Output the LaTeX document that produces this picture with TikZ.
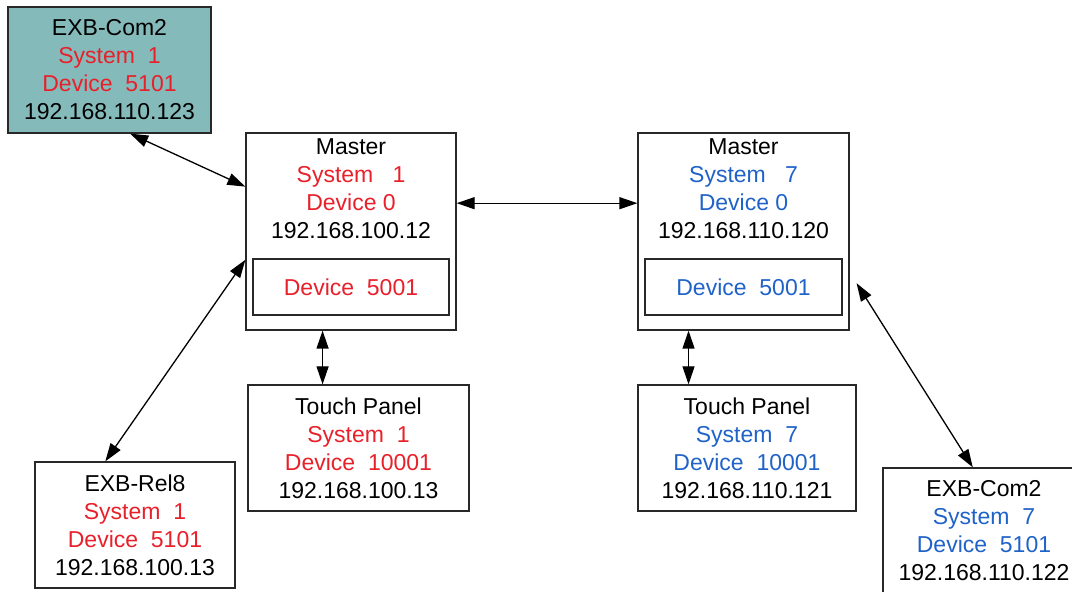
\documentclass[tikz,border=0pt]{standalone}
\usepackage{fontspec}
\setmainfont{Liberation Sans}
\usetikzlibrary{positioning, calc, arrows.meta}
\definecolor{sysred}{RGB}{232,32,42}
\definecolor{sysblue}{RGB}{31,98,200}
\definecolor{comfill}{RGB}{132,186,186}
\definecolor{edge}{RGB}{40,40,40}

\begin{document}
\begin{tikzpicture}[
        x=1pt, y=1pt,
        box/.style={rectangle, draw=edge, line width=1.3pt, align=center, inner sep=0pt,
                    font=\fontsize{23}{28}\selectfont, minimum height=126pt},
        com/.style={box, fill=comfill},
        master/.style={rectangle, draw=edge, line width=1.3pt, minimum height=197pt, inner sep=0pt},
        mtext/.style={align=center, inner sep=0pt, font=\fontsize{23}{28}\selectfont},
        sub/.style={box, minimum width=196pt, minimum height=56pt},
        arrow/.style={{Triangle[length=18pt,width=12pt]}-{Triangle[length=18pt,width=12pt]}, line width=1.3pt},
    ]
    \useasboundingbox (0,0) rectangle (1072,592);

    % ===== System 1 =====
    \node[com, minimum width=203pt] (com1) at (109.5,522)
        {EXB-Com2\\\textcolor{sysred}{System~~1}\\\textcolor{sysred}{Device~~5101}\\192.168.110.123};

    \node[master, minimum width=210pt] (m1) at (351,360.5) {};
    \node[mtext, anchor=north] (m1txt) at ($(m1.north)+(0,-6)$)
        {Master\\\textcolor{sysred}{System~~~1}\\\textcolor{sysred}{Device 0}\\192.168.100.12};
    \node[sub] (m1dev) at ($(m1.center)+(0,-55.5)$) {\textcolor{sysred}{Device~~5001}};

    \node[box, minimum width=221pt] (tp1) at (358.5,144)
        {Touch Panel\\\textcolor{sysred}{System~~1}\\\textcolor{sysred}{Device~~10001}\\192.168.100.13};

    \node[box, minimum width=200pt] (rel) at (135,67)
        {EXB-Rel8\\\textcolor{sysred}{System~~1}\\\textcolor{sysred}{Device~~5101}\\192.168.100.13};

    % ===== System 7 =====
    \node[master, minimum width=211pt] (m2) at (743.5,360.5) {};
    \node[mtext, anchor=north] (m2txt) at ($(m2.north)+(0,-6)$)
        {Master\\\textcolor{sysblue}{System~~~7}\\\textcolor{sysblue}{Device 0}\\192.168.110.120};
    \node[sub, minimum width=197pt] (m2dev) at ($(m2.center)+(0,-55.5)$) {\textcolor{sysblue}{Device~~5001}};

    \node[box, minimum width=218pt] (tp2) at (747,144)
        {Touch Panel\\\textcolor{sysblue}{System~~7}\\\textcolor{sysblue}{Device~~10001}\\192.168.110.121};

    \node[box, minimum width=202pt] (com2) at (984,61)
        {EXB-Com2\\\textcolor{sysblue}{System~~7}\\\textcolor{sysblue}{Device~~5101}\\192.168.110.122};

    % ===== Links =====
    \draw[arrow] (com1.288) -- (m1.157);
    \draw[arrow] (m1.195) -- (rel.115);
    \draw[arrow] (m1.15) -- (m1.15 -| m2.west);
    \draw[arrow] (m1.254) -- (m1.254 |- tp1.north);
    \draw[arrow] (m2.241) -- (m2.241 |- tp2.north);
    \draw[arrow, shorten <=13pt] (m2.339.5) -- (com2.100);

\end{tikzpicture}
\end{document}
